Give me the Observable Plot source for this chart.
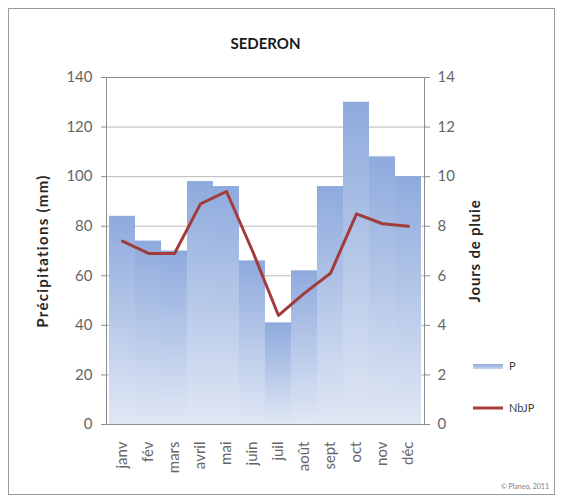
<!DOCTYPE html>
<html><head><meta charset="utf-8">
<script src="https://cdn.jsdelivr.net/npm/d3@7"></script>
<script src="https://cdn.jsdelivr.net/npm/@observablehq/plot@0.6"></script>
<style>body{margin:0;background:#fff;}</style>
</head><body><div id="chart"></div>
<script>
const months = ["janv","fév","mars","avril","mai","juin","juil","août","sept","oct","nov","déc"];
const precip = [84,74,70,98,96,66,41,62,96,130,108,100];
const nbjp = [7.4,6.9,6.9,8.9,9.4,7.0,4.4,5.3,6.1,8.5,8.1,8.0];
const leftTicks = [0,20,40,60,80,100,120,140];
const rightTicks = [0,2,4,6,8,10,12,14];
const title = "SEDERON";
const leftLabel = "Précipitations (mm)";
const rightLabel = "Jours de pluie";
const legendNames = ["P","NbJP"];
const credit = "© Planeo, 2011";

const ratio = 10; // 140 mm <-> 14 jours
const data = months.map((m,i)=>({month:m, p:precip[i], nb:nbjp[i]}));

const plot = Plot.plot({
  width:561, height:499,
  marginLeft:106, marginRight:137, marginTop:77, marginBottom:75,
  style:{fontFamily:"Lato, 'Open Sans', sans-serif", fontSize:"12px", background:"transparent", color:"#595959"},
  x:{domain:months, padding:0, axis:null},
  y:{domain:[0,140], axis:null},
  marks:[
    Plot.gridY(leftTicks, {stroke:"#b8b8b8", strokeOpacity:1}),
    Plot.barY(data, {x:"month", y:"p", fill:"url(#barGrad)"}),
    Plot.frame({stroke:"#8c8c8c"}),
    Plot.line(data, {x:"month", y:d=>d.nb*ratio, stroke:"#a23b3b", strokeWidth:3}),
    Plot.axisY(leftTicks, {anchor:"left", tickSize:5, tickPadding:9, label:null, stroke:"#8c8c8c", fill:"#666666", fontSize:15}),
    Plot.axisY(rightTicks.map(d=>d*ratio), {anchor:"right", tickSize:5, tickPadding:8, tickFormat:d=>d/ratio, label:null, stroke:"#8c8c8c", fill:"#666666", fontSize:15}),
    Plot.axisX(months, {tickRotate:-90, tickSize:0, tickPadding:17, label:null, fill:"#666666", fontSize:15}),
    Plot.text([title], {frameAnchor:"top", lineAnchor:"middle", dy:-33, fontWeight:"bold", fontSize:15, fill:"#1a1a1a"}),
    Plot.text([leftLabel], {frameAnchor:"left", textAnchor:"middle", dx:-63, rotate:-90, fontWeight:"bold", fontSize:15, fill:"#262626"}),
    Plot.text([rightLabel], {frameAnchor:"right", textAnchor:"middle", dx:51, rotate:-90, fontWeight:"bold", fontSize:15, fill:"#262626"})
  ]
});

const svg = d3.select(plot);
const defs = svg.insert("defs", ":first-child");
const g = defs.append("linearGradient").attr("id","barGrad").attr("x1",0).attr("y1",0).attr("x2",0).attr("y2",1);
g.append("stop").attr("offset","0%").attr("stop-color","#8eaadd");
g.append("stop").attr("offset","100%").attr("stop-color","#e0e7f4");
const lg = defs.append("linearGradient").attr("id","legGrad").attr("x1",0).attr("y1",0).attr("x2",0).attr("y2",1);
lg.append("stop").attr("offset","0%").attr("stop-color","#8eaadd");
lg.append("stop").attr("offset","100%").attr("stop-color","#c9d7ee");

// letter spacing on axis titles to match the reference width
svg.selectAll("text").filter(function(){ return this.textContent === leftLabel; }).attr("letter-spacing", 1.3);
svg.selectAll("text").filter(function(){ return this.textContent === rightLabel; }).attr("letter-spacing", 0.8);

// outer chart border
svg.insert("rect", "defs + *").attr("x",8.5).attr("y",8.5).attr("width",546).attr("height",486)
  .attr("fill","#fff").attr("stroke","#9a9a9a").attr("stroke-width",1);

// legend
const leg = svg.append("g").attr("font-size",11).attr("fill","#404040").attr("text-anchor","start");
leg.append("rect").attr("x",473).attr("y",364).attr("width",30).attr("height",5).attr("fill","url(#legGrad)");
leg.append("text").attr("x",509).attr("y",366).attr("dy","0.35em").text(legendNames[0]);
leg.append("line").attr("x1",473).attr("x2",503).attr("y1",408).attr("y2",408).attr("stroke","#a23b3b").attr("stroke-width",3);
leg.append("text").attr("x",509).attr("y",408).attr("dy","0.35em").text(legendNames[1]);

// credit
svg.append("text").attr("x",549).attr("y",489).attr("text-anchor","end").attr("font-size",7).attr("fill","#808080").text(credit);

document.getElementById("chart").appendChild(plot);
</script>
</body></html>
